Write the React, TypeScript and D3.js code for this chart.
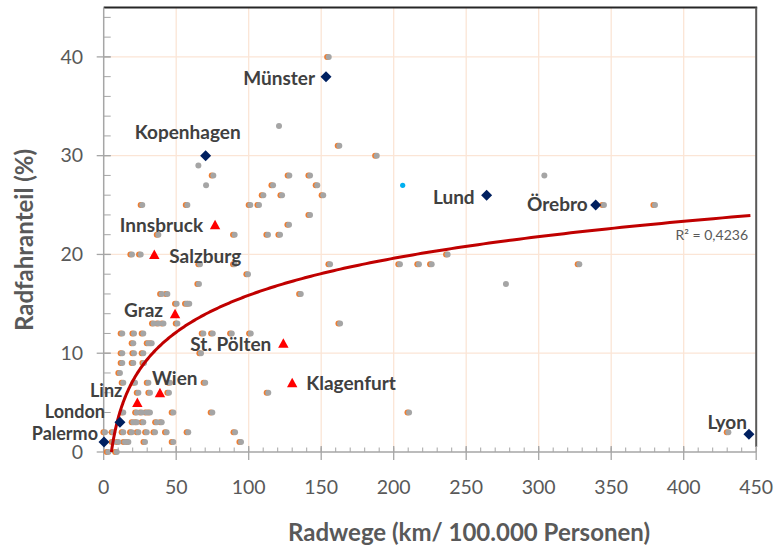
import React from 'react';
import * as d3 from 'd3';

const W = 777;
const H = 547;

const xTickValues = [0, 50, 100, 150, 200, 250, 300, 350, 400, 450];
const yTickValues = [0, 10, 20, 30, 40];

// other cities: drawn as two overlapping series (orange + gray)
const otherKm = [
  155.2, 75.6, 26.6, 57.7, 101.1, 107.1, 110.1, 123, 151.4, 116.8, 147.3, 128, 142.3,
  162.5, 188.3, 142.3, 127.8, 37.7, 90.3, 113.3, 121.6, 19.5, 25.5, 66.4, 90.3, 99.5,
  65.7, 156.1, 135.9, 163, 68.7, 75.2, 88.3, 101.4, 67.1, 70, 74.9, 90.6, 94.7, 113.5,
  345, 380.2, 204.3, 217.4, 226.2, 237.2, 328, 210.6, 430.8,
  40, 43.9, 50.3, 57.2, 59, 34.4, 37.8, 41.2, 50.8, 12.8, 20.9, 27.3, 20.4, 30.8, 33.1,
  12.8, 20.9, 27.3, 12.8, 20.4, 27.8, 11.2, 13.5, 21.6, 30.8, 45.7, 23.9, 31.9, 45,
  13.5, 22.8, 26.2, 29.7, 31.9, 48, 20.4, 22.8, 27.3, 36.6, 40,
  0.9, 6.6, 13.5, 19.3, 23.9, 29.7, 35.4, 43.4, 58.3, 6.6, 10.1, 14.7, 17, 28.5, 48, 3.2, 9,
];
const otherShare = [
  40, 28, 25, 25, 25, 25, 26, 26, 26, 27, 27, 28, 28,
  31, 30, 24, 23, 22, 22, 22, 22, 20, 20, 19, 19, 18,
  17, 19, 16, 13, 12, 12, 12, 12, 10, 7, 4, 2, 1, 6,
  25, 25, 19, 19, 19, 20, 19, 4, 2,
  16, 16, 15, 15, 15, 13, 13, 13, 13, 12, 12, 12, 11, 11, 11,
  10, 10, 10, 9, 9, 9, 8, 7, 7, 7, 7, 6, 6, 6,
  4, 4, 4, 4, 4, 4, 3, 3, 3, 3, 3,
  2, 2, 2, 2, 2, 2, 2, 2, 2, 1, 1, 1, 1, 1, 1, 0, 0,
];
const grayOnlyKm = [120.9, 65.3, 70.6, 303.9, 277.4];
const grayOnlyShare = [33, 29, 27, 28, 17];
const cyanKm = [206.2];
const cyanShare = [27];

const intlNames = ['Münster', 'Kopenhagen', 'Lund', 'Örebro', 'Lyon', 'Palermo', 'London'];
const intlKm = [153.3, 70.3, 264.1, 339.3, 445, 0.2, 11.2];
const intlShare = [38, 30, 26, 25, 1.8, 1, 3];

const atNames = ['Innsbruck', 'Salzburg', 'Graz', 'St. Pölten', 'Klagenfurt', 'Wien', 'Linz'];
const atKm = [76.8, 34.9, 49.2, 123.9, 130, 38.8, 23.2];
const atShare = [23, 20, 14, 11, 7, 6, 5];

// logarithmic trendline y = a ln(x) + b
const trendA = 5.4;
const trendB = -9.0;
const trendMaxKm = 446;
const r2Text = 'R² = 0,4236';

const xTitle = 'Radwege (km/ 100.000 Personen)';
const yTitle = 'Radfahranteil (%)';

// label layout (pixels relative to marker)
const labelPlacement: Record<string, { anchor: string; dx: number; dy: number; size?: number }> = {
  'Münster': { anchor: 'end', dx: -11, dy: 2 },
  'Kopenhagen': { anchor: 'middle', dx: -18, dy: -23 },
  'Lund': { anchor: 'end', dx: -12, dy: 2 },
  'Örebro': { anchor: 'end', dx: -8, dy: -1 },
  'Lyon': { anchor: 'end', dx: -2, dy: -12 },
  'Palermo': { anchor: 'end', dx: -6, dy: -8, size: 18 },
  'London': { anchor: 'end', dx: -15, dy: -11, size: 18 },
  'Innsbruck': { anchor: 'end', dx: -12, dy: 1 },
  'Salzburg': { anchor: 'start', dx: 15, dy: 2 },
  'Graz': { anchor: 'end', dx: -12, dy: -3 },
  'St. Pölten': { anchor: 'end', dx: -12, dy: 1 },
  'Klagenfurt': { anchor: 'start', dx: 14, dy: 0 },
  'Wien': { anchor: 'start', dx: -8, dy: -14 },
  'Linz': { anchor: 'end', dx: -15, dy: -12, size: 18 },
};

const FONT = "Lato, 'Open Sans', sans-serif";

export default function App() {
  const x = d3.scaleLinear().domain([0, 450]).range([103.7, 756.2]);
  const y = d3.scaleLinear().domain([0, 45]).range([452, 7.5]);
  const [x0, x1] = x.range();
  const [y0, y1] = y.range();

  const xMinor = d3.range(0, 451, 10);
  const yMinor = d3.range(0, 46, 2);

  const kStart = Math.exp(-trendB / trendA);
  const trendPts: [number, number][] = [];
  const n = 300;
  for (let i = 0; i <= n; i++) {
    const k = kStart * Math.pow(trendMaxKm / kStart, i / n);
    trendPts.push([k, trendA * Math.log(k) + trendB]);
  }
  const trendPath = d3.line<[number, number]>().x((d) => x(d[0])).y((d) => y(d[1]))(trendPts) || '';

  const diamond = 'M0,-5.5L5.5,0L0,5.5L-5.5,0Z';
  const triangle = 'M0,-5L5.2,4.5L-5.2,4.5Z';

  const label = (name: string, cx: number, cy: number) => {
    const p = labelPlacement[name];
    return (
      <text x={cx + p.dx} y={cy + p.dy} dy="0.35em" textAnchor={p.anchor} fontFamily={FONT} fontSize={p.size || 19} fontWeight="bold" fill="#404040">
        {name}
      </text>
    );
  };

  return (
    <svg width={W} height={H} style={{ position: 'absolute', left: 0, top: 0, background: '#fff' }}>
      {/* gridlines */}
      {xTickValues.slice(1).map((v) => (
        <line key={'gx' + v} x1={x(v)} x2={x(v)} y1={y1} y2={y0} stroke="#fbe5d6" strokeWidth={1.3} />
      ))}
      {yTickValues.slice(1).map((v) => (
        <line key={'gy' + v} x1={x0} x2={x1} y1={y(v)} y2={y(v)} stroke="#fbe5d6" strokeWidth={1.3} />
      ))}
      {/* frame top/right */}
      <line x1={x0} x2={x1 + 1} y1={y1} y2={y1} stroke="#262626" strokeWidth={2} />
      <line x1={x1} x2={x1} y1={y1} y2={y0 - 5} stroke="#595959" strokeWidth={2} />
      {/* axes */}
      <line x1={x0} x2={x1} y1={y0} y2={y0} stroke="#a6a6a6" strokeWidth={1.5} />
      <line x1={x0} x2={x0} y1={y1} y2={y0 + 1} stroke="#a6a6a6" strokeWidth={1.5} />
      {xMinor.map((v) => (
        <line key={'mx' + v} x1={x(v)} x2={x(v)} y1={y0 - 4.5} y2={y0} stroke="#a6a6a6" strokeWidth={1} />
      ))}
      {xTickValues.map((v) => (
        <line key={'tx' + v} x1={x(v)} x2={x(v)} y1={y0 - 6} y2={y0 + 8} stroke="#a6a6a6" strokeWidth={1.3} />
      ))}
      {yMinor.map((v) => (
        <line key={'my' + v} x1={x0} x2={x0 + 7} y1={y(v)} y2={y(v)} stroke="#a6a6a6" strokeWidth={1} />
      ))}
      {yTickValues.map((v) => (
        <line key={'ty' + v} x1={x0 - 7} x2={x0 + 7} y1={y(v)} y2={y(v)} stroke="#a6a6a6" strokeWidth={1.3} />
      ))}
      {/* tick labels */}
      {xTickValues.map((v) => (
        <text key={'lx' + v} x={x(v)} y={494} textAnchor="middle" fontFamily={FONT} fontSize={19.5} fill="#595959">
          {v}
        </text>
      ))}
      {yTickValues.map((v) => (
        <text key={'ly' + v} x={83} y={y(v)} dy="0.35em" textAnchor="end" fontFamily={FONT} fontSize={19.5} fill="#595959">
          {v}
        </text>
      ))}
      {/* axis titles */}
      <text x={469} y={541} textAnchor="middle" fontFamily={FONT} fontSize={24} fontWeight="bold" fill="#595959">
        {xTitle}
      </text>
      <text
        transform={`translate(33,${240}) rotate(-90)`}
        textAnchor="middle"
        fontFamily={FONT}
        fontSize={24}
        fontWeight="bold"
        fill="#595959"
      >
        {yTitle}
      </text>
      {/* other cities */}
      {otherKm.map((k, i) => (
        <circle key={'o' + i} cx={x(k) - 1.6} cy={y(otherShare[i])} r={3} fill="#ed7d31" />
      ))}
      {otherKm.map((k, i) => (
        <circle key={'g' + i} cx={x(k)} cy={y(otherShare[i])} r={3} fill="#a5a5a5" />
      ))}
      {grayOnlyKm.map((k, i) => (
        <circle key={'go' + i} cx={x(k)} cy={y(grayOnlyShare[i])} r={3} fill="#a5a5a5" />
      ))}
      {cyanKm.map((k, i) => (
        <circle key={'c' + i} cx={x(k)} cy={y(cyanShare[i])} r={2.6} fill="#00b0f0" />
      ))}
      {/* trendline */}
      <path d={trendPath} fill="none" stroke="#c00000" strokeWidth={3} />
      <text x={748} y={240} textAnchor="end" fontFamily={FONT} fontSize={14} fill="#595959">
        {r2Text}
      </text>
      {/* international cities */}
      {intlNames.map((name, i) => {
        const cx = x(intlKm[i]);
        const cy = y(intlShare[i]);
        return (
          <g key={'i' + name}>
            <path d={diamond} transform={`translate(${cx},${cy})`} fill="#002060" />
            {label(name, cx, cy)}
          </g>
        );
      })}
      {/* Austrian cities */}
      {atNames.map((name, i) => {
        const cx = x(atKm[i]);
        const cy = y(atShare[i]);
        return (
          <g key={'a' + name}>
            <path d={triangle} transform={`translate(${cx},${cy})`} fill="#ff0000" />
            {label(name, cx, cy)}
          </g>
        );
      })}
    </svg>
  );
}
